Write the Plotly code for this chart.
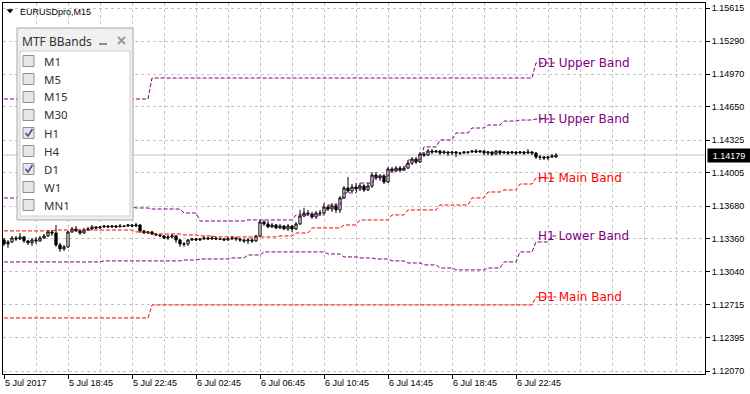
import plotly.graph_objects as go
from datetime import datetime, timedelta

# ---------------- data ----------------
symbol_label = "EURUSDpro,M15"
first_bar = datetime(2017, 7, 5, 14, 45)      # M15 bars
h1_origin = datetime(2017, 7, 5, 14, 0)       # first H1 bar
d1_origin = datetime(2017, 7, 5)              # first D1 bar

opens = [
    1.13350, 1.13311, 1.13330, 1.13369, 1.13360, 1.13379, 1.13340, 1.13321, 1.13350, 1.13340,
    1.13369, 1.13389, 1.13428, 1.13418, 1.13301, 1.13262, 1.13282, 1.13428, 1.13457, 1.13438,
    1.13418, 1.13447, 1.13457, 1.13477, 1.13467, 1.13477, 1.13486, 1.13477, 1.13486, 1.13477,
    1.13486, 1.13486, 1.13496, 1.13486, 1.13496, 1.13438, 1.13418, 1.13428, 1.13408, 1.13399,
    1.13389, 1.13369, 1.13379, 1.13389, 1.13350, 1.13311, 1.13311, 1.13350, 1.13360, 1.13350,
    1.13360, 1.13369, 1.13360, 1.13369, 1.13360, 1.13360, 1.13350, 1.13360, 1.13369, 1.13360,
    1.13350, 1.13340, 1.13350, 1.13340, 1.13389, 1.13525, 1.13506, 1.13477, 1.13496, 1.13467,
    1.13486, 1.13457, 1.13486, 1.13457, 1.13506, 1.13584, 1.13613, 1.13604, 1.13574, 1.13613,
    1.13613, 1.13672, 1.13652, 1.13682, 1.13643, 1.13760, 1.13857, 1.13828, 1.13867, 1.13848,
    1.13877, 1.13838, 1.13877, 1.13984, 1.13955, 1.13974, 1.13916, 1.14043, 1.14023, 1.14052,
    1.14033, 1.14052, 1.14101, 1.14140, 1.14111, 1.14189, 1.14179, 1.14218, 1.14209, 1.14218,
    1.14199, 1.14209, 1.14199, 1.14209, 1.14199, 1.14199, 1.14209, 1.14209, 1.14218, 1.14209,
    1.14218, 1.14199, 1.14209, 1.14189, 1.14218, 1.14199, 1.14209, 1.14199, 1.14209, 1.14199,
    1.14209, 1.14199, 1.14209, 1.14199, 1.14160, 1.14160, 1.14150, 1.14160, 1.14160,
]
highs = [
    1.13369, 1.13350, 1.13389, 1.13389, 1.13418, 1.13389, 1.13350, 1.13369, 1.13379, 1.13389,
    1.13408, 1.13447, 1.13447, 1.13496, 1.13321, 1.13301, 1.13438, 1.13477, 1.13486, 1.13457,
    1.13467, 1.13477, 1.13496, 1.13486, 1.13486, 1.13496, 1.13496, 1.13496, 1.13496, 1.13506,
    1.13496, 1.13506, 1.13506, 1.13516, 1.13506, 1.13447, 1.13438, 1.13438, 1.13418, 1.13408,
    1.13399, 1.13399, 1.13408, 1.13399, 1.13360, 1.13330, 1.13360, 1.13369, 1.13369, 1.13369,
    1.13389, 1.13379, 1.13389, 1.13379, 1.13369, 1.13369, 1.13379, 1.13389, 1.13379, 1.13369,
    1.13360, 1.13369, 1.13369, 1.13399, 1.13545, 1.13545, 1.13535, 1.13516, 1.13506, 1.13506,
    1.13496, 1.13506, 1.13496, 1.13525, 1.13643, 1.13662, 1.13643, 1.13623, 1.13633, 1.13643,
    1.13711, 1.13691, 1.13711, 1.13711, 1.13779, 1.13877, 1.13965, 1.13896, 1.13906, 1.13906,
    1.13896, 1.13906, 1.14013, 1.14013, 1.13994, 1.13994, 1.14062, 1.14062, 1.14072, 1.14072,
    1.14072, 1.14121, 1.14160, 1.14160, 1.14209, 1.14209, 1.14238, 1.14238, 1.14228, 1.14228,
    1.14228, 1.14218, 1.14218, 1.14218, 1.14209, 1.14218, 1.14218, 1.14228, 1.14238, 1.14228,
    1.14228, 1.14218, 1.14218, 1.14228, 1.14228, 1.14218, 1.14218, 1.14218, 1.14218, 1.14218,
    1.14218, 1.14238, 1.14218, 1.14209, 1.14179, 1.14170, 1.14170, 1.14189, 1.14199,
]
lows = [
    1.13291, 1.13272, 1.13321, 1.13340, 1.13350, 1.13321, 1.13301, 1.13291, 1.13311, 1.13330,
    1.13360, 1.13379, 1.13389, 1.13282, 1.13233, 1.13243, 1.13272, 1.13418, 1.13428, 1.13399,
    1.13408, 1.13438, 1.13447, 1.13457, 1.13457, 1.13467, 1.13467, 1.13467, 1.13467, 1.13477,
    1.13477, 1.13477, 1.13477, 1.13477, 1.13418, 1.13408, 1.13408, 1.13399, 1.13389, 1.13379,
    1.13360, 1.13350, 1.13369, 1.13321, 1.13282, 1.13282, 1.13291, 1.13340, 1.13340, 1.13340,
    1.13350, 1.13350, 1.13350, 1.13350, 1.13350, 1.13340, 1.13340, 1.13350, 1.13340, 1.13330,
    1.13321, 1.13311, 1.13321, 1.13330, 1.13379, 1.13486, 1.13467, 1.13467, 1.13457, 1.13457,
    1.13447, 1.13438, 1.13428, 1.13447, 1.13496, 1.13574, 1.13584, 1.13555, 1.13555, 1.13584,
    1.13604, 1.13633, 1.13623, 1.13613, 1.13613, 1.13750, 1.13809, 1.13818, 1.13828, 1.13828,
    1.13818, 1.13828, 1.13857, 1.13935, 1.13926, 1.13896, 1.13906, 1.14004, 1.14013, 1.14013,
    1.14023, 1.14043, 1.14082, 1.14091, 1.14101, 1.14160, 1.14170, 1.14189, 1.14199, 1.14179,
    1.14189, 1.14170, 1.14179, 1.14160, 1.14179, 1.14189, 1.14189, 1.14199, 1.14199, 1.14199,
    1.14179, 1.14179, 1.14170, 1.14179, 1.14179, 1.14189, 1.14179, 1.14189, 1.14179, 1.14189,
    1.14179, 1.14189, 1.14179, 1.14140, 1.14130, 1.14130, 1.14130, 1.14150, 1.14150,
]
closes = [
    1.13311, 1.13330, 1.13369, 1.13360, 1.13379, 1.13340, 1.13321, 1.13350, 1.13340, 1.13369,
    1.13389, 1.13428, 1.13418, 1.13301, 1.13262, 1.13282, 1.13428, 1.13457, 1.13438, 1.13418,
    1.13447, 1.13457, 1.13477, 1.13467, 1.13477, 1.13486, 1.13477, 1.13486, 1.13477, 1.13486,
    1.13482, 1.13496, 1.13486, 1.13496, 1.13438, 1.13418, 1.13428, 1.13408, 1.13399, 1.13389,
    1.13369, 1.13379, 1.13389, 1.13350, 1.13311, 1.13308, 1.13350, 1.13360, 1.13350, 1.13360,
    1.13369, 1.13360, 1.13369, 1.13360, 1.13357, 1.13350, 1.13360, 1.13369, 1.13360, 1.13350,
    1.13340, 1.13350, 1.13340, 1.13389, 1.13525, 1.13506, 1.13477, 1.13496, 1.13467, 1.13486,
    1.13457, 1.13486, 1.13457, 1.13506, 1.13584, 1.13613, 1.13604, 1.13574, 1.13613, 1.13610,
    1.13672, 1.13652, 1.13682, 1.13643, 1.13760, 1.13857, 1.13828, 1.13867, 1.13848, 1.13877,
    1.13838, 1.13877, 1.13984, 1.13955, 1.13974, 1.13916, 1.14043, 1.14023, 1.14052, 1.14033,
    1.14052, 1.14101, 1.14140, 1.14111, 1.14189, 1.14179, 1.14218, 1.14209, 1.14218, 1.14199,
    1.14209, 1.14199, 1.14209, 1.14199, 1.14196, 1.14209, 1.14206, 1.14218, 1.14209, 1.14218,
    1.14199, 1.14209, 1.14189, 1.14218, 1.14199, 1.14209, 1.14199, 1.14209, 1.14199, 1.14209,
    1.14199, 1.14209, 1.14199, 1.14160, 1.14157, 1.14150, 1.14160, 1.14170, 1.14179,
]

# MTF Bollinger Bands, H1 values (one per hour from 5 Jul 14:00)
h1_upper = [
    1.13760, 1.13760, 1.13760, 1.13750, 1.13750, 1.13740, 1.13711, 1.13691, 1.13672, 1.13662,
    1.13652, 1.13652, 1.13613, 1.13535, 1.13535, 1.13535, 1.13545, 1.13545, 1.13545, 1.13594,
    1.13594, 1.13691, 1.13809, 1.13906, 1.13974, 1.14033, 1.14130, 1.14258, 1.14326, 1.14394,
    1.14443, 1.14472, 1.14511, 1.14521, 1.14531, 1.14531,
]
h1_main = [
    1.13438, 1.13438, 1.13438, 1.13438, 1.13447, 1.13447, 1.13447, 1.13447, 1.13447, 1.13428,
    1.13408, 1.13408, 1.13399, 1.13389, 1.13379, 1.13379, 1.13379, 1.13379, 1.13389, 1.13418,
    1.13467, 1.13467, 1.13496, 1.13545, 1.13545, 1.13594, 1.13643, 1.13643, 1.13691, 1.13691,
    1.13760, 1.13818, 1.13838, 1.13896, 1.13955, 1.13955,
]
h1_lower = [
    1.13135, 1.13135, 1.13135, 1.13135, 1.13135, 1.13135, 1.13135, 1.13145, 1.13145, 1.13145,
    1.13145, 1.13145, 1.13154, 1.13164, 1.13164, 1.13174, 1.13203, 1.13233, 1.13233, 1.13233,
    1.13233, 1.13213, 1.13184, 1.13174, 1.13164, 1.13145, 1.13125, 1.13106, 1.13076, 1.13057,
    1.13057, 1.13076, 1.13135, 1.13233, 1.13330, 1.13389,
]
# D1 values (5, 6, 7 Jul)
d1_upper = [1.14726, 1.14931, 1.15078]
d1_main = [1.12588, 1.12715, 1.12793]

band_labels = ["D1 Upper Band", "H1 Upper Band", "H1 Main Band", "H1 Lower Band", "D1 Main Band"]

y_tick_values = [1.12070, 1.12395, 1.12715, 1.13040, 1.13360, 1.13680,
                 1.14005, 1.14325, 1.14650, 1.14970, 1.15290, 1.15615]
x_tick_labels = ["5 Jul 2017", "5 Jul 18:45", "5 Jul 22:45", "6 Jul 02:45", "6 Jul 06:45",
                 "6 Jul 10:45", "6 Jul 14:45", "6 Jul 18:45", "6 Jul 22:45"]

timeframes = ["M1", "M5", "M15", "M30", "H1", "H4", "D1", "W1", "MN1"]
checked = ["H1", "D1"]

# ---------------- mapping M15 bars to higher timeframe bars ----------------
n = len(closes)
bar_x = list(range(n))
bar_time = [first_bar + timedelta(minutes=15 * i) for i in range(n)]
h1_idx = [int((t - h1_origin).total_seconds() // 3600) for t in bar_time]
d1_idx = [(t.date() - d1_origin.date()).days for t in bar_time]

bands = [
    ([d1_upper[k] for k in d1_idx], "#800080", band_labels[0]),
    ([h1_upper[k] for k in h1_idx], "#800080", band_labels[1]),
    ([h1_main[k] for k in h1_idx], "#ff0000", band_labels[2]),
    ([h1_lower[k] for k in h1_idx], "#800080", band_labels[3]),
    ([d1_main[k] for k in d1_idx], "#ff0000", band_labels[4]),
]

# ---------------- geometry helpers (pixel -> paper) ----------------
W, H = 750, 394
ML, MR, MT, MB = 3, 45, 3, 20
PW, PH = W - ML - MR, H - MT - MB
def px(x):
    return (x - ML) / PW
def py(y):
    return 1 - (y - MT) / PH

BAR_PX = 4.0
x_range = [(ML - 4) / BAR_PX, (W - MR - 4) / BAR_PX]
y_per_px = (y_tick_values[-1] - y_tick_values[0]) / 363.0
y_range = [y_tick_values[0] - 3 * y_per_px, y_tick_values[-1] + 5 * y_per_px]

fig = go.Figure()

fig.add_trace(go.Candlestick(
    x=bar_x, open=opens, high=highs, low=lows, close=closes,
    increasing=dict(line=dict(color="black", width=1), fillcolor="white"),
    decreasing=dict(line=dict(color="black", width=1), fillcolor="black"),
    whiskerwidth=0, hoverinfo="skip", showlegend=False,
))

for vals, col, name in bands:
    fig.add_trace(go.Scatter(
        x=bar_x, y=vals, mode="lines", name=name,
        line=dict(color=col, width=1, dash="4px,2px"),
        hoverinfo="skip", showlegend=False,
    ))

grid = dict(gridcolor="#c4c4c4", griddash="3px,3px", gridwidth=1)
axis_font = dict(family="Liberation Sans, Arial, sans-serif", size=9, color="black")

fig.update_layout(
    width=W, height=H,
    margin=dict(l=ML, r=MR, t=MT, b=MB),
    paper_bgcolor="white", plot_bgcolor="white",
    showlegend=False, boxgap=0.2,
    xaxis=dict(
        range=x_range, tickmode="array",
        tickvals=bar_x[::16], ticktext=x_tick_labels,
        ticks="outside", ticklen=4, tickcolor="black",
        ticklabelposition="outside right",
        showline=True, mirror=True, linecolor="black", linewidth=1,
        showgrid=True, zeroline=False, tickfont=axis_font,
        rangeslider=dict(visible=False),
        minor=dict(tickmode="array", tickvals=list(range(0, 176, 8)), showgrid=True, ticks="", **grid),
        **grid,
    ),
    yaxis=dict(
        range=y_range, side="right", tickmode="array",
        tickvals=y_tick_values, ticktext=[f"{v:.5f}" for v in y_tick_values],
        ticks="outside", ticklen=4, tickcolor="black",
        showline=True, mirror=True, linecolor="black", linewidth=1,
        showgrid=True, zeroline=False, tickfont=axis_font,
        **grid,
    ),
)

shapes = []
annotations = []

# bid line
shapes.append(dict(type="line", xref="paper", yref="y", x0=0, x1=1,
                   y0=closes[-1], y1=closes[-1], line=dict(color="#c0c0c0", width=1),
                   layer="between"))
# price tag
annotations.append(dict(xref="paper", yref="y", x=1, y=closes[-1], xanchor="left", yanchor="middle",
                        xshift=2, text=f"{closes[-1]:.5f}", showarrow=False,
                        bgcolor="black", width=40, height=11, borderpad=1,
                        font=dict(family="Liberation Sans, Arial, sans-serif", size=9, color="white")))

# band labels (placed at start of 7 Jul, at the latest band value)
label_x = d1_idx.index(2)
for vals, col, name in bands:
    annotations.append(dict(xref="x", yref="y", x=label_x, y=vals[-1], xanchor="left", yanchor="middle",
                            text=name, showarrow=False,
                            font=dict(family="DejaVu Sans, Verdana, sans-serif", size=12, color=col)))

# symbol header
shapes.append(dict(type="path", xref="paper", yref="paper",
                   path=f"M {px(7)},{py(9.5)} L {px(13)},{py(9.5)} L {px(10)},{py(13)} Z",
                   fillcolor="black", line=dict(color="black", width=0.5), layer="above"))
annotations.append(dict(xref="paper", yref="paper", x=px(18), y=py(11.5), xanchor="left", yanchor="middle",
                        text=symbol_label, showarrow=False,
                        font=dict(family="Liberation Sans, Arial, sans-serif", size=9, color="black")))

# MTF BBands panel
shapes.append(dict(type="rect", xref="paper", yref="paper", x0=px(17), x1=px(133), y0=py(220), y1=py(28),
                   fillcolor="#f0f0f0", line=dict(color="#a8a8a8", width=1), layer="above"))
shapes.append(dict(type="rect", xref="paper", yref="paper", x0=px(20), x1=px(130), y0=py(216), y1=py(51),
                   fillcolor="white", line=dict(color="#d0d0d0", width=1), layer="above"))
annotations.append(dict(xref="paper", yref="paper", x=px(20), y=py(41), xanchor="left", yanchor="middle",
                        text="MTF BBands", showarrow=False,
                        font=dict(family="Noto Sans, sans-serif", size=12, color="#333333")))
shapes.append(dict(type="line", xref="paper", yref="paper", x0=px(99), x1=px(107), y0=py(44), y1=py(44),
                   line=dict(color="#8c8c8c", width=2), layer="above"))
for a, b in [((118, 37), (125, 44)), ((118, 44), (125, 37))]:
    shapes.append(dict(type="line", xref="paper", yref="paper", x0=px(a[0]), y0=py(a[1]),
                       x1=px(b[0]), y1=py(b[1]), line=dict(color="#9a9a9a", width=2), layer="above"))

for k, tf in enumerate(timeframes):
    yc = 61 + 18 * k
    shapes.append(dict(type="rect", xref="paper", yref="paper", x0=px(23), x1=px(34),
                       y0=py(yc + 5.5), y1=py(yc - 5.5),
                       fillcolor="#e6e6e6", line=dict(color="#8f8f8f", width=1), layer="above"))
    if tf in checked:
        shapes.append(dict(type="path", xref="paper", yref="paper",
                           path=f"M {px(25.5)},{py(yc)} L {px(28)},{py(yc + 3)} L {px(32.5)},{py(yc - 4)}",
                           line=dict(color="#3c4f8c", width=1.6), layer="above"))
    annotations.append(dict(xref="paper", yref="paper", x=px(42), y=py(yc), xanchor="left", yanchor="middle",
                            text=tf, showarrow=False,
                            font=dict(family="Noto Sans, sans-serif", size=11.5, color="#333333")))

fig.update_layout(shapes=shapes, annotations=annotations)
fig.write_html("out.html")
